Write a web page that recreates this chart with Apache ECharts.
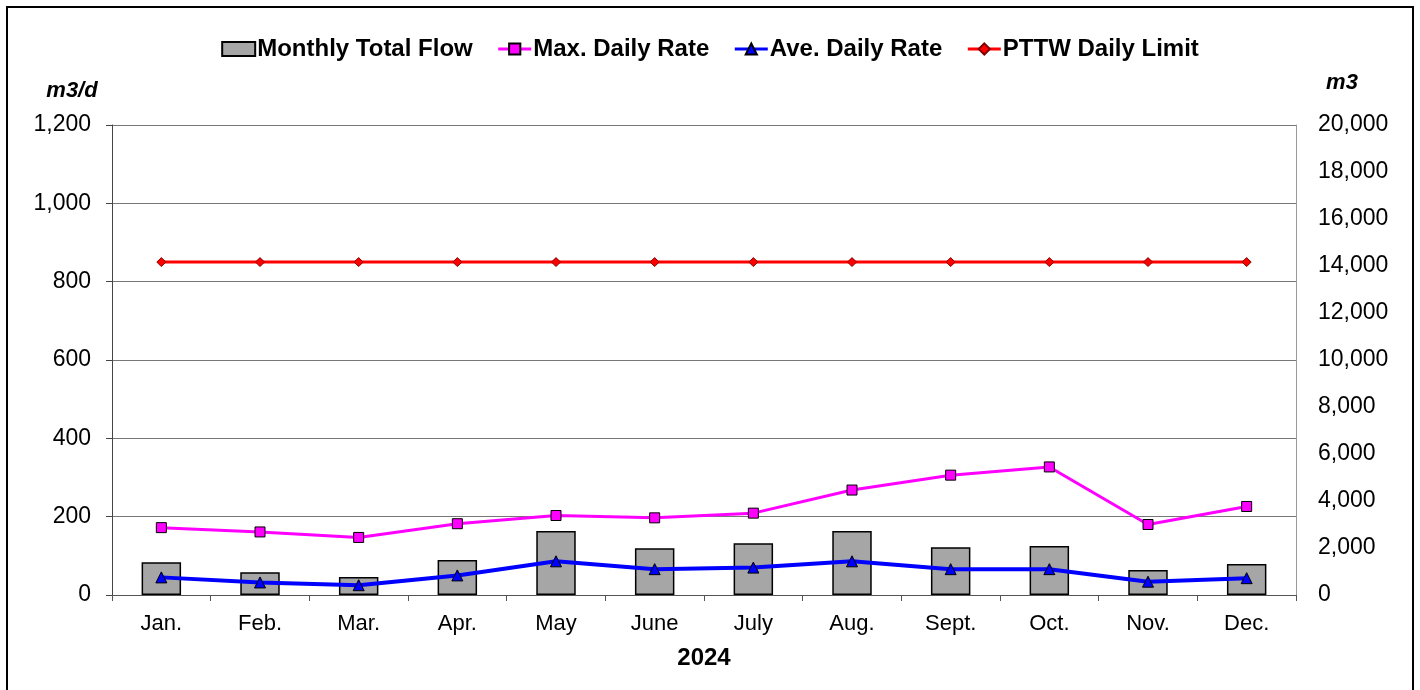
<!DOCTYPE html>
<html>
<head>
<meta charset="utf-8">
<script src="https://cdn.jsdelivr.net/npm/echarts@6/dist/echarts.min.js"></script>
<style>
  html, body { margin: 0; padding: 0; background: #fff; }
  #chart { width: 1420px; height: 690px; }
</style>
</head>
<body>
<div id="chart"></div>
<script>
// values
const months = ["Jan.", "Feb.", "Mar.", "Apr.", "May", "June", "July", "Aug.", "Sept.", "Oct.", "Nov.", "Dec."];
const monthlyTotalFlow = [1390, 970, 770, 1490, 2720, 1990, 2200, 2720, 2030, 2090, 1060, 1320]; // m3
const maxDailyRate = [172, 161, 147, 182, 203, 197, 209, 268, 306, 327, 180, 226]; // m3/d
const aveDailyRate = [45, 32, 25, 50, 86, 66, 70, 86, 66, 66, 34, 43]; // m3/d
const pttwDailyLimit = [850, 850, 850, 850, 850, 850, 850, 850, 850, 850, 850, 850];
const leftTicks = { min: 0, max: 1200, interval: 200 };
const rightTicks = { min: 0, max: 20000, interval: 2000 };

const font = "Liberation Sans, Arial, sans-serif";
const fmt = (v) => v.toLocaleString("en-US");

let chart = echarts.init(document.getElementById("chart"));
let options = {
  animation: false,
  textStyle: { fontFamily: font, color: "#000" },
  graphic: [
    {
      type: "rect",
      shape: { x: 7, y: 7, width: 1406, height: 690 },
      style: { fill: "none", stroke: "#000", lineWidth: 2 },
      silent: true,
    },
  ],
  legend: {
    top: 32,
    left: "center",
    itemWidth: 33,
    itemHeight: 14,
    itemGap: 24,
    lineStyle: { width: 3 },
    textStyle: { fontFamily: font, fontSize: 24, fontWeight: "bold", color: "#000", padding: [0, 0, 0, -3] },
    data: [
      { name: "Monthly Total Flow", icon: "rect" },
      "Max. Daily Rate",
      "Ave. Daily Rate",
      "PTTW Daily Limit",
    ],
  },
  grid: {
    left: 112,
    right: 124,
    top: 125,
    bottom: 95,
  },
  xAxis: [
    {
      type: "category",
      data: months,
      boundaryGap: true,
      name: "2024",
      nameLocation: "middle",
      nameGap: 51,
      nameTextStyle: { fontFamily: font, fontSize: 24, fontWeight: "bold", color: "#000" },
      axisLine: { show: true, lineStyle: { color: "#555", width: 1 } },
      axisTick: { show: true, length: 6, lineStyle: { color: "#555" } },
      axisLabel: { fontFamily: font, fontSize: 22, color: "#000", margin: 18, interval: 0 },
      splitLine: { show: false },
    },
  ],
  yAxis: [
    {
      type: "value",
      min: leftTicks.min,
      max: leftTicks.max,
      interval: leftTicks.interval,
      name: "m3/d",
      nameLocation: "end",
      nameGap: 23,
      nameTextStyle: {
        fontFamily: font,
        fontSize: 22,
        fontWeight: "bold",
        fontStyle: "italic",
        color: "#000",
        align: "center",
        padding: [0, 80, 0, 0],
      },
      axisLine: { show: true, lineStyle: { color: "#444", width: 1 } },
      axisTick: { show: true, length: 6, lineStyle: { color: "#444" } },
      axisLabel: { fontFamily: font, fontSize: 23, color: "#000", margin: 21, formatter: fmt },
      splitLine: { show: true, lineStyle: { color: "#777", width: 1 } },
    },
    {
      type: "value",
      min: rightTicks.min,
      max: rightTicks.max,
      interval: rightTicks.interval,
      name: "m3",
      nameLocation: "end",
      nameGap: 31,
      nameTextStyle: {
        fontFamily: font,
        fontSize: 22,
        fontWeight: "bold",
        fontStyle: "italic",
        color: "#000",
        align: "center",
        padding: [0, 0, 0, 92],
      },
      axisLine: { show: true, lineStyle: { color: "#999", width: 1 } },
      axisTick: { show: false },
      axisLabel: { fontFamily: font, fontSize: 23, color: "#000", margin: 22, formatter: fmt },
      splitLine: { show: false },
    },
  ],
  series: [
    {
      name: "Monthly Total Flow",
      type: "bar",
      xAxisIndex: 0,
      yAxisIndex: 1,
      barWidth: "40%",
      data: monthlyTotalFlow,
      itemStyle: { color: "#a6a6a6", borderColor: "#000", borderWidth: 1.5 },
      z: 2,
    },
    {
      name: "Max. Daily Rate",
      type: "line",
      yAxisIndex: 0,
      data: maxDailyRate,
      symbol: "rect",
      symbolSize: 10,
      lineStyle: { color: "#ff00ff", width: 3 },
      itemStyle: { color: "#ff00ff", borderColor: "#000", borderWidth: 1 },
      z: 4,
    },
    {
      name: "Ave. Daily Rate",
      type: "line",
      yAxisIndex: 0,
      data: aveDailyRate,
      symbol: "triangle",
      symbolSize: 11,
      lineStyle: { color: "#0000ff", width: 4 },
      itemStyle: { color: "#0000ff", borderColor: "#000", borderWidth: 1 },
      z: 5,
    },
    {
      name: "PTTW Daily Limit",
      type: "line",
      yAxisIndex: 0,
      data: pttwDailyLimit,
      symbol: "diamond",
      symbolSize: 9,
      lineStyle: { color: "#ff0000", width: 3 },
      itemStyle: { color: "#ff0000", borderColor: "#800000", borderWidth: 1 },
      z: 4,
    },
  ],
};
chart.setOption(options);
</script>
</body>
</html>
